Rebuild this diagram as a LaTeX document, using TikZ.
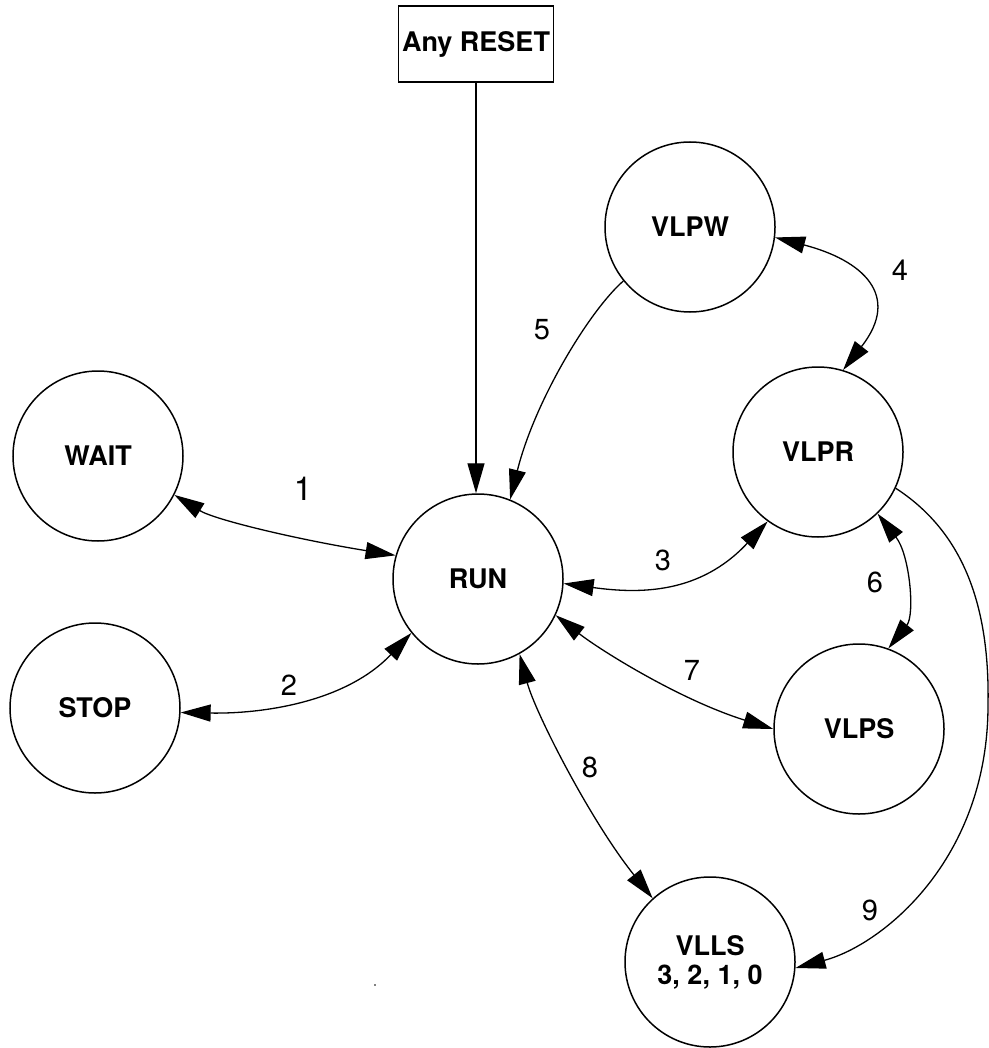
\documentclass[tikz,border=0pt]{standalone}
\usepackage{fontspec}
\setmainfont{TeX Gyre Heros}
\usetikzlibrary{arrows.meta}
\begin{document}
\begin{tikzpicture}[x=1pt,y=-1pt,
  >={Triangle[length=30pt,width=17pt]},
  state/.style={circle,draw,line width=1.5pt,minimum size=170pt,inner sep=0pt,
    font=\fontsize{27}{29}\selectfont\bfseries,align=center},
  resetbox/.style={rectangle,draw,line width=1.5pt,minimum width=155pt,minimum height=76pt,
    inner sep=0pt,font=\fontsize{27}{29}\selectfont\bfseries},
  conn/.style={line width=1.3pt},
  lab/.style={font=\fontsize{29}{30}\selectfont,inner sep=0pt}]
\useasboundingbox (0,0) rectangle (988,1048);
\fill[white] (0,0) rectangle (988,1048);

\node[resetbox] (reset) at (476,44) {Any RESET};
\node[state] (vlpw) at (690,227) {VLPW};
\node[state] (wait) at (98,456) {WAIT};
\node[state] (run) at (478,579) {RUN};
\node[state] (vlpr) at (818,452) {VLPR};
\node[state] (stop) at (95,708) {STOP};
\node[state] (vlps) at (859,729) {VLPS};
\node[state] (vlls) at (710,962) {VLLS\\3, 2, 1, 0};
\coordinate (bend9) at (988,705);

\draw[conn,->] (reset.south) -- (reset.south |- run.north);
\draw[conn,<->] (wait.-27) .. controls (215,520) and (300,540) .. (run.164);
\draw[conn,<->] (stop.-3) .. controls (260,714) and (345,703) .. (run.-141);
\draw[conn,<->] (run.-3) .. controls (640,594) and (700,594) .. (vlpr.-126);
\draw[conn,<->] (vlpw.-7) .. controls (862,260) and (902,295) .. (vlpr.73);
\draw[conn,->] (vlpw.-141) .. controls (590,310) and (535,400) .. (run.68);
\draw[conn,<->] (vlpr.-46) .. controls (910,555) and (915,615) .. (vlps.70);
\draw[conn,<->] (run.-25) .. controls (600,650) and (680,700) .. (vlps.180);
\draw[conn,<->] (run.-61) .. controls (535,712) and (590,820) .. (vlls.132);
\draw[conn,->] (vlpr.-25) .. controls (960,530) and (990,600) .. (bend9)
  .. controls (988,860) and (882,945) .. (vlls.-4);

\node[lab,font=\fontsize{33}{34}\selectfont] (l1) at (303,489) {1};
\node[lab] (l2) at (289,685) {2};
\node[lab] (l3) at (663,560) {3};
\node[lab] (l4) at (900,270) {4};
\node[lab] (l5) at (542,330) {5};
\node[lab] (l6) at (875,582) {6};
\node[lab] (l7) at (692,670) {7};
\node[lab] (l8) at (590,767) {8};
\node[lab] (l9) at (870,910) {9};

\fill (375,985) circle (0.8pt);
\end{tikzpicture}
\end{document}
